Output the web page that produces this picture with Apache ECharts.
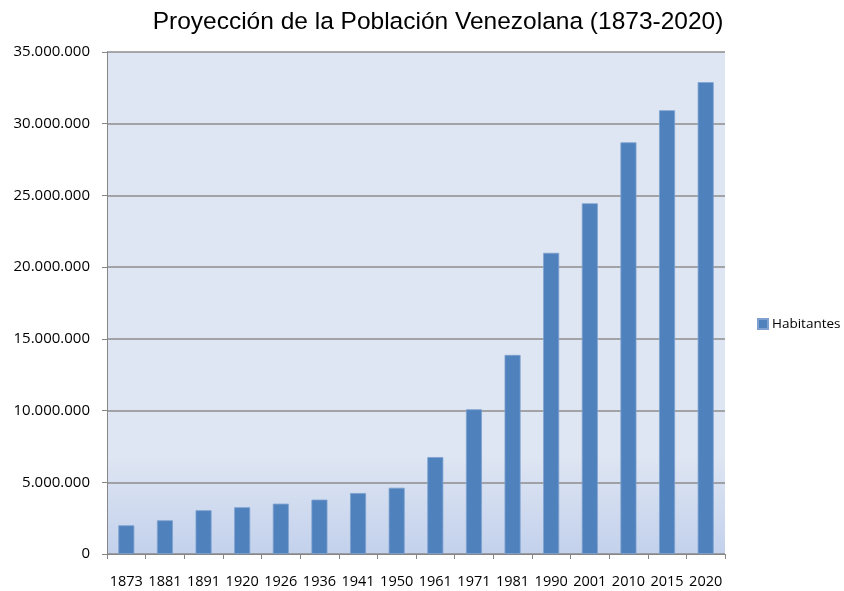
<!DOCTYPE html>
<html><head><meta charset="utf-8">
<script src="https://cdn.jsdelivr.net/npm/echarts@6/dist/echarts.min.js"></script>
<style>html,body{margin:0;padding:0;background:#fff}#c{width:844px;height:591px}</style>
</head><body><div id="c"></div>
<script>
const categories = ['1873','1881','1891','1920','1926','1936','1941','1950','1961','1971','1981','1990','2001','2010','2015','2020'];
const habitantes = [2000000,2350000,3050000,3260000,3510000,3790000,4250000,4620000,6760000,10090000,13880000,21000000,24450000,28700000,30940000,32900000];
const seriesName = 'Habitantes';
const titleText = 'Proyección de la Población Venezolana (1873-2020)';

const chart = echarts.init(document.getElementById('c'));
function fmt(v){ return String(v).replace(/\B(?=(\d{3})+(?!\d))/g,'.'); }
chart.setOption({
  animation:false,
  backgroundColor:'#fff',
  title:{text:titleText,left:433,top:5,textAlign:'center',textStyle:{fontFamily:'Liberation Sans',fontSize:24.5,fontWeight:'normal',color:'#000'}},
  legend:{data:[seriesName],left:752,top:312,itemWidth:10,itemHeight:10,itemGap:5,icon:'rect',textStyle:{fontFamily:'Open Sans',fontSize:13.5,color:'#000',padding:[0,0,0,-1]}},
  grid:{left:107,right:119,top:52,bottom:37,show:true,borderWidth:0,
    backgroundColor:new echarts.graphic.LinearGradient(0,0,0,1,[{offset:0,color:'#dfe6f3'},{offset:0.8,color:'#dfe6f3'},{offset:1,color:'#c3d1ec'}])},
  xAxis:{type:'category',data:categories,boundaryGap:true,
    axisLine:{lineStyle:{color:'#868686',width:1}},
    axisTick:{show:true,length:5,interval:0,lineStyle:{color:'#868686'}},
    axisLabel:{interval:0,margin:20,fontFamily:'Open Sans',fontSize:14.5,color:'#000'}},
  yAxis:{type:'value',min:0,max:35000000,interval:5000000,
    axisLine:{show:true,lineStyle:{color:'#868686'}},
    axisTick:{show:true,length:5,lineStyle:{color:'#868686'}},
    splitLine:{lineStyle:{color:'#8c8c8c',width:1.5}},
    axisLabel:{formatter:fmt,margin:17,fontFamily:'Open Sans',fontSize:15,color:'#000'}},
  series:[{name:seriesName,type:'bar',data:habitantes,barWidth:16,
    itemStyle:{color:'#4f81bd',borderColor:'#7ea1cf',borderWidth:0.8}}]
});
</script></body></html>
